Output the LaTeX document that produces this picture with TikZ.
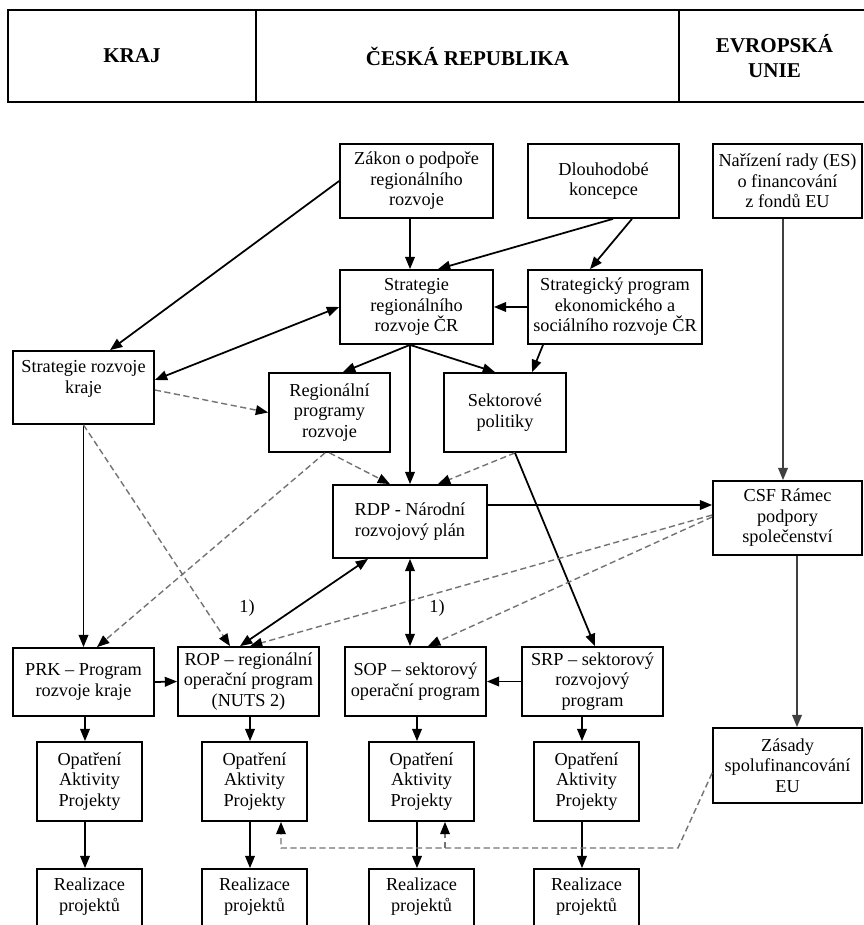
\documentclass[tikz,border=0pt]{standalone}
\usepackage{fontspec}
\setmainfont{Liberation Serif}
\usetikzlibrary{arrows.meta}

\tikzset{
  box/.style={draw, line width=1pt, align=center, inner sep=0pt,
    font=\fontsize{10.4}{11.7}\selectfont},
  boxsize/.style 2 args={minimum width=#1*0.02cm, minimum height=#2*0.02cm},
  head/.style={draw, line width=1.1pt, align=center, inner sep=0pt,
    font=\bfseries\fontsize{12}{14}\selectfont, minimum height=1.84cm},
  note/.style={inner sep=0pt, font=\fontsize{10.4}{11.7}\selectfont},
  arr/.style={-{Triangle[length=7pt,width=5.5pt]}},
  both/.style={{Triangle[length=7pt,width=5.5pt]}-{Triangle[length=7pt,width=5.5pt]}},
  dashline/.style={black!55, line width=0.8pt, dash pattern=on 3.5pt off 2pt,
    -{Triangle[length=7pt,width=5.5pt,black]}}
}

\begin{document}
\begin{tikzpicture}[x=0.02cm, y=-0.02cm, line width=1pt]
  \useasboundingbox (0,0) rectangle (864,925);

  \node[head, minimum width=248*0.02cm] (kraj) at (132,56) {KRAJ};
  \node[head, minimum width=423*0.02cm] (cr) at (467.5,56) {ČESKÁ REPUBLIKA};
  \node[head, minimum width=191*0.02cm] (eu) at (774.5,56) {EVROPSKÁ\\UNIE};

  \node[box, boxsize={153}{74}] (zakon) at (416.5,181) {Zákon o podpoře\\regionálního\\rozvoje};
  \node[box, boxsize={151}{74}] (dlouho) at (603.5,181) {Dlouhodobé\\koncepce};
  \node[box, boxsize={149}{74}] (narizeni) at (787.5,181) {Nařízení rady (ES)\\o financování\\z fondů EU};
  \node[box, boxsize={153}{74}] (strcr) at (416.5,307) {Strategie\\regionálního\\rozvoje ČR};
  \node[box, boxsize={174}{74}] (strprog) at (615,307) {Strategický program\\ekonomického a\\sociálního rozvoje ČR};
  \node[box, boxsize={141}{73}] (strkraj) at (83.5,387.5) {Strategie rozvoje\\kraje\\ \mbox{}};
  \node[box, boxsize={121}{79}] (regprog) at (329.5,412.5) {Regionální\\programy\\rozvoje};
  \node[box, boxsize={122}{79}] (sektor) at (505,412.5) {Sektorové\\politiky};
  \node[box, boxsize={154}{73}] (rdp) at (410,521.5) {RDP - Národní\\rozvojový plán};
  \node[box, boxsize={149}{74}] (csf) at (787.5,518) {CSF Rámec\\podpory\\společenství};
  \node[box, boxsize={141}{68}] (prk) at (83.5,682) {PRK – Program\\rozvoje kraje};
  \node[box, boxsize={141}{69}] (rop) at (248.5,681.5) {ROP – regionální\\operační program\\(NUTS 2)};
  \node[box, boxsize={141}{69}] (sop) at (415.5,681.5) {SOP – sektorový\\operační program};
  \node[box, boxsize={141}{69}] (srp) at (592.5,681.5) {SRP – sektorový\\rozvojový\\program};
  \node[box, boxsize={149}{75}] (zasady) at (787.5,765.5) {Zásady\\spolufinancování\\EU};
  \foreach \n/\x in {1/89.5, 2/254.5, 3/421.5, 4/586.5} {
    \node[box, boxsize={105}{79}] (opat\n) at (\x,781.5) {Opatření\\Aktivity\\Projekty};
    \node[box, boxsize={105}{72}] (real\n) at (\x,905) {Realizace\\projektů\\ \mbox{}};
  }
  \node[note] (note1) at (247,608) {1)};
  \node[note] (note2) at (437,608) {1)};

  \draw[arr] (zakon.west) -- ([xshift=0.53cm]strkraj.north);
  \draw[arr] (zakon.south -| rdp.north) -- (strcr.north -| rdp.north);
  \draw[arr] ([xshift=0.19cm]dlouho.south) -- ([xshift=0.43cm]strcr.north);
  \draw[arr] ([xshift=0.57cm]dlouho.south) -- ([xshift=-0.5cm]strprog.north);
  \draw[arr] (strprog.west) -- (strcr.east);
  \draw[both] ([yshift=0.15cm]strkraj.east) -- (strcr.west);
  \draw[arr] (strcr.south -| rdp.north) -- ([xshift=0.27cm]regprog.north);
  \draw[arr] (strcr.south -| rdp.north) -- ([xshift=-0.2cm]sektor.north);
  \draw[arr] (strcr.south -| rdp.north) -- (rdp.north);
  \draw[arr] ([xshift=-1.44cm]strprog.south) -- ([xshift=0.54cm]sektor.north);
  \draw[arr] (strkraj.south) -- (prk.north);
  \draw[dashline] ([yshift=-0.05cm]strkraj.east) -- (regprog.west);
  \draw[dashline] (strkraj.south) -- ([xshift=-0.37cm]rop.north);
  \draw[dashline] (regprog.south) -- ([xshift=-0.4cm]rdp.north);
  \draw[dashline] ([xshift=-0.09cm]regprog.south) -- ([xshift=0.27cm]prk.north);
  \draw[dashline] ([xshift=0.2cm]sektor.south) -- ([xshift=0.56cm]rdp.north);
  \draw[arr] ([xshift=0.2cm]sektor.south) -- ([xshift=0.05cm]srp.north);
  \coordinate (rdpout) at ([yshift=0.33cm]rdp.east);
  \draw[arr] (rdpout) -- (rdpout -| csf.west);
  \draw[arr, black!75] ([xshift=-0.09cm]narizeni.south) -- ([xshift=-0.09cm]csf.north);
  \draw[dashline] ([yshift=0.06cm]csf.west) -- ([xshift=0.03cm]rop.north);
  \draw[dashline] ([yshift=0.02cm]csf.west) -- ([xshift=0.25cm]sop.north);
  \draw[both] ([xshift=-0.84cm]rdp.south) -- ([xshift=-0.17cm]rop.north);
  \draw[both] (rdp.south) -- (rdp.south |- sop.north);
  \draw[arr] (prk.east) -- (rop.west);
  \draw[arr] (srp.west) -- (sop.east);
  \draw[arr, black!75] ([xshift=0.19cm]csf.south) -- ([xshift=0.19cm]zasady.north);
  \foreach \p/\n in {prk/1, rop/2, sop/3, srp/4} {
    \coordinate (top\n) at ([xshift=-0.09cm]opat\n.north);
    \draw[arr] (top\n |- \p.south) -- (top\n);
    \draw[arr] (top\n |- opat\n.south) -- (top\n |- real\n.north);
  }
  \coordinate (bend) at (678,848);
  \coordinate (up2) at ([xshift=0.53cm]opat2.south);
  \coordinate (up3) at ([xshift=0.47cm]opat3.south);
  \draw[dashline] ([yshift=-0.15cm]zasady.west) -- (bend) -- (bend -| up2) -- (up2);
  \draw[dashline] (bend -| up3) -- (up3);
\end{tikzpicture}
\end{document}
